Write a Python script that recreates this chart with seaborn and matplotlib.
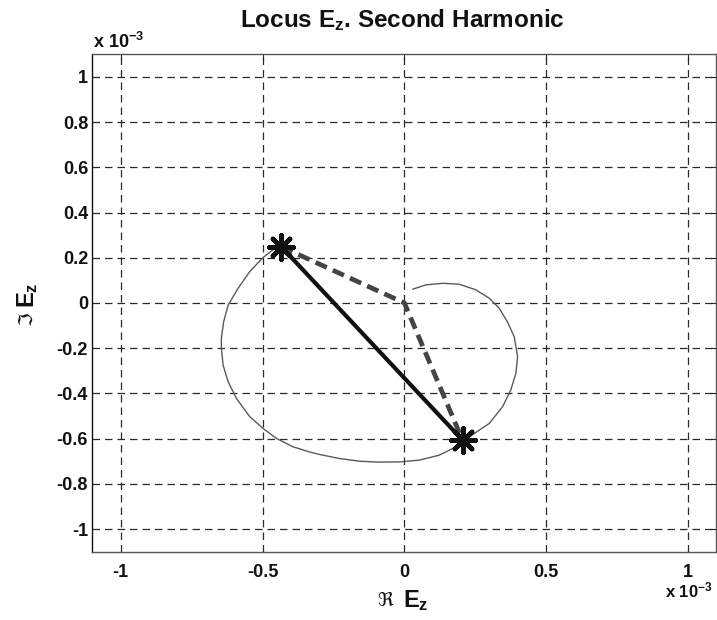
import numpy as np
import pandas as pd
import matplotlib
matplotlib.use("Agg")
import matplotlib.pyplot as plt
import seaborn as sns

# Data in units of 1e-3 (real part, imaginary part of E_z)
locus_re = [0.029, 0.076, 0.135, 0.193, 0.252, 0.299, 0.334, 0.363, 0.387, 0.399, 0.393,
            0.375, 0.346, 0.299, 0.264, 0.232, 0.205, 0.170, 0.123, 0.053, -0.018, -0.088,
            -0.158, -0.229, -0.299, -0.334, -0.393, -0.451, -0.498, -0.545, -0.592,
            -0.621, -0.639, -0.645, -0.645, -0.637, -0.621, -0.586, -0.545, -0.498,
            -0.463, -0.434]
locus_im = [0.061, 0.080, 0.087, 0.083, 0.058, 0.021, -0.023, -0.083, -0.149, -0.238,
            -0.311, -0.385, -0.459, -0.533, -0.562, -0.590, -0.607, -0.644, -0.673, -0.695,
            -0.703, -0.704, -0.700, -0.688, -0.670, -0.659, -0.636, -0.599, -0.555,
            -0.503, -0.422, -0.349, -0.275, -0.200, -0.156, -0.083, -0.009, 0.065, 0.139,
            0.201, 0.235, 0.249]
chord_re = [-0.434, 0.205]
chord_im = [0.249, -0.607]
phasor_re = [-0.434, 0.0, 0.205]
phasor_im = [0.249, 0.0, -0.607]
xticks = [-1, -0.5, 0, 0.5, 1]
xtick_labels = ["-1", "-0.5", "0", "0.5", "1"]
yticks = [-1, -0.8, -0.6, -0.4, -0.2, 0, 0.2, 0.4, 0.6, 0.8, 1]
ytick_labels = ["-1", "-0.8", "-0.6", "-0.4", "-0.2", "0", "0.2", "0.4", "0.6", "0.8", "1"]

sns.set_theme(style="white")
plt.rcParams['font.family'] = ['Liberation Sans', 'DejaVu Sans']
plt.rcParams['font.weight'] = 'bold'
plt.rcParams['mathtext.fontset'] = 'custom'
plt.rcParams['mathtext.rm'] = 'Liberation Sans:bold'
plt.rcParams['mathtext.bf'] = 'Liberation Sans:bold'
plt.rcParams['mathtext.it'] = 'Liberation Sans:bold'
plt.rcParams['mathtext.sf'] = 'Liberation Sans:bold'
plt.rcParams['mathtext.default'] = 'bf'

fig = plt.figure(figsize=(7.17, 6.2), dpi=100)
ax = fig.add_axes([0.1287, 0.1102, 0.8706, 0.8023])

df_locus = pd.DataFrame({"re": locus_re, "im": locus_im})
df_chord = pd.DataFrame({"re": chord_re, "im": chord_im})
df_ph = pd.DataFrame({"re": phasor_re, "im": phasor_im})

sns.lineplot(data=df_locus, x="re", y="im", sort=False, estimator=None, ax=ax,
             color="#5a5a5a", lw=1.0)
sns.lineplot(data=df_ph, x="re", y="im", sort=False, estimator=None, ax=ax,
             color="#444444", lw=3.4, linestyle=(0, (2.6, 1.4)))
sns.lineplot(data=df_chord, x="re", y="im", sort=False, estimator=None, ax=ax,
             color="#111111", lw=3.0)
sns.scatterplot(data=df_chord, x="re", y="im", ax=ax, marker=(8, 2, 0), s=300,
                linewidth=3.4, color="#111111", edgecolor="#111111", zorder=5)

ax.set_xlim(-1.1, 1.1)
ax.set_ylim(-1.1, 1.1)
ax.set_xticks(xticks)
ax.set_xticklabels(xtick_labels)
ax.set_yticks(yticks)
ax.set_yticklabels(ytick_labels)
ax.tick_params(direction="in", length=4, width=0.8, color="#222222",
               top=True, right=True, labelsize=13, labelcolor="#111111")
ax.tick_params(axis="y", pad=3)
ax.tick_params(axis="x", pad=9)
for lab in ax.get_xticklabels() + ax.get_yticklabels():
    lab.set_fontweight("bold")
ax.grid(True, color="#2a2a2a", ls=(0, (6, 4)), lw=0.9)
for s in ax.spines.values():
    s.set_color("#555555")
    s.set_linewidth(1.0)
ax.spines["left"].set_color("#111111")
ax.set_xlabel("")
ax.set_ylabel("")

fig.text(0.561, 0.968, r"Locus E$_{z}$. Second Harmonic", ha="center", va="center",
         fontsize=17.5, fontweight="bold", color="#111111")
# x label: Re E_z
fig.text(0.548, 0.032, "ℜ", ha="right", va="center", fontsize=14,
         family="DejaVu Sans", fontweight="normal", color="#111111")
fig.text(0.562, 0.032, r"E$_{z}$", ha="left", va="center", fontsize=17,
         fontweight="bold", color="#111111")
# y label: Im E_z
fig.text(0.038, 0.497, "ℑ", ha="center", va="top", fontsize=14, rotation=90,
         family="DejaVu Sans", fontweight="normal", color="#111111")
fig.text(0.038, 0.503, r"E$_{z}$", ha="center", va="bottom", fontsize=17,
         rotation=90, fontweight="bold", color="#111111")
# multipliers
fig.text(0.13, 0.932, r"x 10$^{-3}$", ha="left", va="center", fontsize=13,
         fontweight="bold", color="#111111")
fig.text(0.993, 0.048, r"x 10$^{-3}$", ha="right", va="center", fontsize=12,
         fontweight="bold", color="#111111")

fig.savefig("out.png", dpi=100)
